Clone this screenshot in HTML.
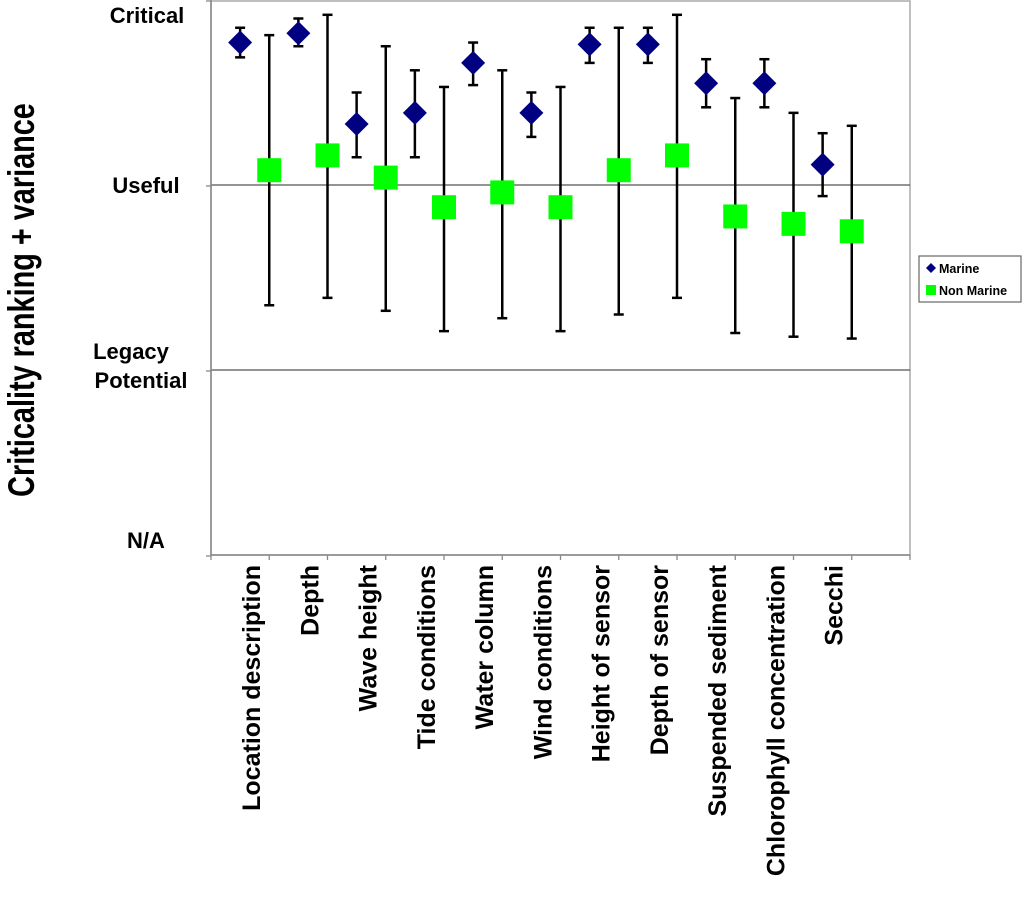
<!DOCTYPE html>
<html><head><meta charset="utf-8"><style>
body{margin:0;background:#fff;}
svg text{font-family:"Liberation Sans",Arial,sans-serif;font-weight:bold;}
</style></head><body>
<svg width="1024" height="896" viewBox="0 0 1024 896">
<script>
const categories=["Location description","Depth","Wave height","Tide conditions","Water column","Wind conditions","Height of sensor","Depth of sensor","Suspended sediment","Chlorophyll concentration","Secchi"];
const marineVals=[2.77,2.82,2.33,2.39,2.66,2.39,2.76,2.76,2.55,2.55,2.11];
const marineLo=[2.69,2.75,2.15,2.15,2.54,2.26,2.66,2.66,2.42,2.42,1.94];
const marineHi=[2.85,2.90,2.50,2.62,2.77,2.50,2.85,2.85,2.68,2.68,2.28];
const nonMarineVals=[2.08,2.16,2.04,1.88,1.96,1.88,2.08,2.16,1.83,1.79,1.75];
const nonMarineLo=[1.35,1.39,1.32,1.21,1.28,1.21,1.30,1.39,1.20,1.18,1.17];
const nonMarineHi=[2.81,2.92,2.75,2.53,2.62,2.53,2.85,2.92,2.47,2.39,2.32];
const yTickLabels=["N/A","Legacy\nPotential","Useful","Critical"];
</script>
<g id="g"></g>
<script>
(function(){
const NS="http://www.w3.org/2000/svg";
const g=document.getElementById('g');
const L=211,R=910,T=0,B=555,nSlots=12,slot=(R-L)/nSlots;
const y=v=>B-v*(B-T)/3;
const xm=i=>L+slot*(i+0.5);
const xn=i=>L+slot*(i+1);
function el(tag,attrs,parent){const e=document.createElementNS(NS,tag);for(const k in attrs)e.setAttribute(k,attrs[k]);(parent||g).appendChild(e);return e;}
let e;
e=el('rect',{x:L,y:T+1,width:R-L,height:B-T-1,fill:'none',stroke:'#aaa','stroke-width':1.5});


[1,2].forEach(v=>{e=el('line',{x1:L,x2:R,y1:y(v),y2:y(v),stroke:'#555','stroke-width':1.3});

});
e=el('line',{x1:L,x2:L,y1:T,y2:B,stroke:'#888','stroke-width':1.5});


e=el('line',{x1:L,x2:R,y1:B,y2:B,stroke:'#888','stroke-width':1.5});


for(let v=0;v<=3;v++){e=el('line',{x1:L-5,x2:L,y1:y(v)+1,y2:y(v)+1,stroke:'#888','stroke-width':1.3});

}
for(let i=0;i<=nSlots;i++){e=el('line',{x1:L+slot*i,x2:L+slot*i,y1:B,y2:B+5,stroke:'#888','stroke-width':1.3});

}
const yl=[{xs:[146],ys:[548]},{xs:[131,141],ys:[359,388]},{xs:[146],ys:[193]},{xs:[147],ys:[23]}];
yl.forEach((o,k)=>{yTickLabels[k].split("\n").forEach((s,j)=>{e=el('text',{x:o.xs[j],y:o.ys[j],'text-anchor':'middle','font-size':22,fill:'#000'});e.textContent=s;

});});
e=el('text',{x:0,y:0,'text-anchor':'middle','font-size':37,fill:'#000',transform:'translate(34,300) rotate(-90) scale(0.78,1)'});e.textContent='Criticality ranking + variance';


categories.forEach((c,i)=>{const tx=xm(i)+20;
e=el('text',{x:0,y:0,'text-anchor':'end','font-size':25,fill:'#000',transform:`translate(${tx},565) rotate(-90)`});e.textContent=c;

});
function errbar(x,lo,hi,name){const gg=el('g',{stroke:'#000','stroke-width':2.5});


el('line',{x1:x,x2:x,y1:y(lo),y2:y(hi)},gg);el('line',{x1:x-5,x2:x+5,y1:y(lo),y2:y(lo)},gg);el('line',{x1:x-5,x2:x+5,y1:y(hi),y2:y(hi)},gg);}
categories.forEach((c,i)=>{
errbar(xm(i),marineLo[i],marineHi[i],'marine-error-bar');
errbar(xn(i),nonMarineLo[i],nonMarineHi[i],'non-marine-error-bar');
const cx=xm(i),cy=y(marineVals[i]);
e=el('polygon',{points:`${cx},${cy-12} ${cx+12},${cy} ${cx},${cy+12} ${cx-12},${cy}`,fill:'#000080'});


const nx=xn(i),ny=y(nonMarineVals[i]);
e=el('rect',{x:nx-12,y:ny-12,width:24,height:24,fill:'#00ff00'});


});
const lg=el('g',{});


el('rect',{x:919,y:256,width:102,height:46,fill:'#fff',stroke:'#666','stroke-width':1.2},lg);
el('polygon',{points:'931,263 936,268 931,273 926,268',fill:'#000080'},lg);
e=el('text',{x:939,y:273,'font-size':12.5,fill:'#000'},lg);e.textContent='Marine';


el('rect',{x:926,y:285,width:10,height:10,fill:'#00ff00'},lg);
e=el('text',{x:939,y:295,'font-size':12.5,fill:'#000'},lg);e.textContent='Non Marine';


})();
</script>
</svg>
</body></html>
